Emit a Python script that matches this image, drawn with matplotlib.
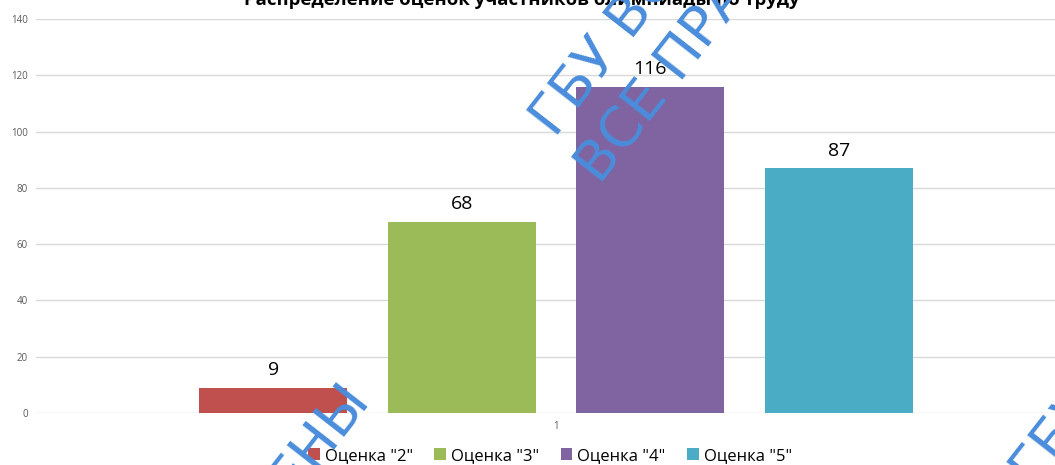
import matplotlib
matplotlib.use("Agg")
import matplotlib.pyplot as plt
from matplotlib.patches import Patch

plt.rcParams['font.family'] = ['Open Sans', 'DejaVu Sans']

# Data
categories = ["1"]
series_names = ['Оценка "2"', 'Оценка "3"', 'Оценка "4"', 'Оценка "5"']
series_values = [9, 68, 116, 87]
series_colors = ["#c0504d", "#9bbb59", "#8064a2", "#4bacc6"]
y_ticks = [0, 20, 40, 60, 80, 100, 120, 140]
title = "Распределение оценок участников олимпиады по труду"

W, H = 1055, 465
fig = plt.figure(figsize=(W / 100, H / 100), dpi=100)
fig.patch.set_facecolor("white")

# plot area (extends slightly past the right edge of the figure)
left_px, right_px = 36, 1076
top_px, bottom_px = 19, 413
ax = fig.add_axes([left_px / W, (H - bottom_px) / H,
                   (right_px - left_px) / W, (bottom_px - top_px) / H])

n = len(series_values)
bar_w = 0.1423
step = 0.1813
offsets = [(i - (n - 1) / 2) * step for i in range(n)]

for off, val, col in zip(offsets, series_values, series_colors):
    ax.bar(off, val, width=bar_w, color=col, zorder=2)
    ax.text(off, val + 3, str(val), ha="center", va="bottom",
            fontsize=14, color="#000000", zorder=3)

ax.set_xlim(-0.5, 0.5)
ax.set_ylim(0, 140)
ax.set_yticks(y_ticks)
ax.set_yticklabels([str(t) for t in y_ticks], fontsize=7, color="#595959")
ax.set_xticks([0])
ax.set_xticklabels(categories, fontsize=7, color="#595959")
ax.tick_params(axis="both", length=0, pad=6)
ax.grid(axis="y", color="#d9d9d9", linewidth=1, zorder=0)
for s in ax.spines.values():
    s.set_visible(False)
ax.set_facecolor("none")

# title (top edge runs off the figure)
fig.text(522 / W, (H - 5) / H, title, ha="center", va="baseline",
         fontsize=13.3, fontweight="bold", color="#000000")

# legend
handles = [Patch(facecolor=c, edgecolor="none") for c in series_colors]
fig.legend(handles, series_names, loc="center", bbox_to_anchor=(550 / W, 1 - 456 / H),
           ncol=4, frameon=False, fontsize=12, handlelength=0.7, handleheight=0.7,
           handletextpad=0.3, columnspacing=1.3)

# watermark
wm_color = "#4a8ddb"
wm_kw = dict(color=wm_color, fontsize=40, rotation=52, rotation_mode="anchor",
             zorder=10, family=["DejaVu Sans"])
fig.text(555 / W, 1 - 138 / H, "ГБУ ВО «ЦОКО»", ha="left", va="baseline", **wm_kw)
fig.text(600 / W, 1 - 185 / H, "ВСЕ ПРАВА ЗАЩИЩЕНЫ", ha="left", va="baseline", **wm_kw)
fig.text(372 / W, 1 - 402 / H, "ВСЕ ПРАВА ЗАЩИЩЕНЫ", ha="right", va="baseline", **wm_kw)
fig.text(1035 / W, 1 - 490 / H, "ГБУ ВО", ha="left", va="baseline", **wm_kw)

fig.savefig("out.png", dpi=100)
